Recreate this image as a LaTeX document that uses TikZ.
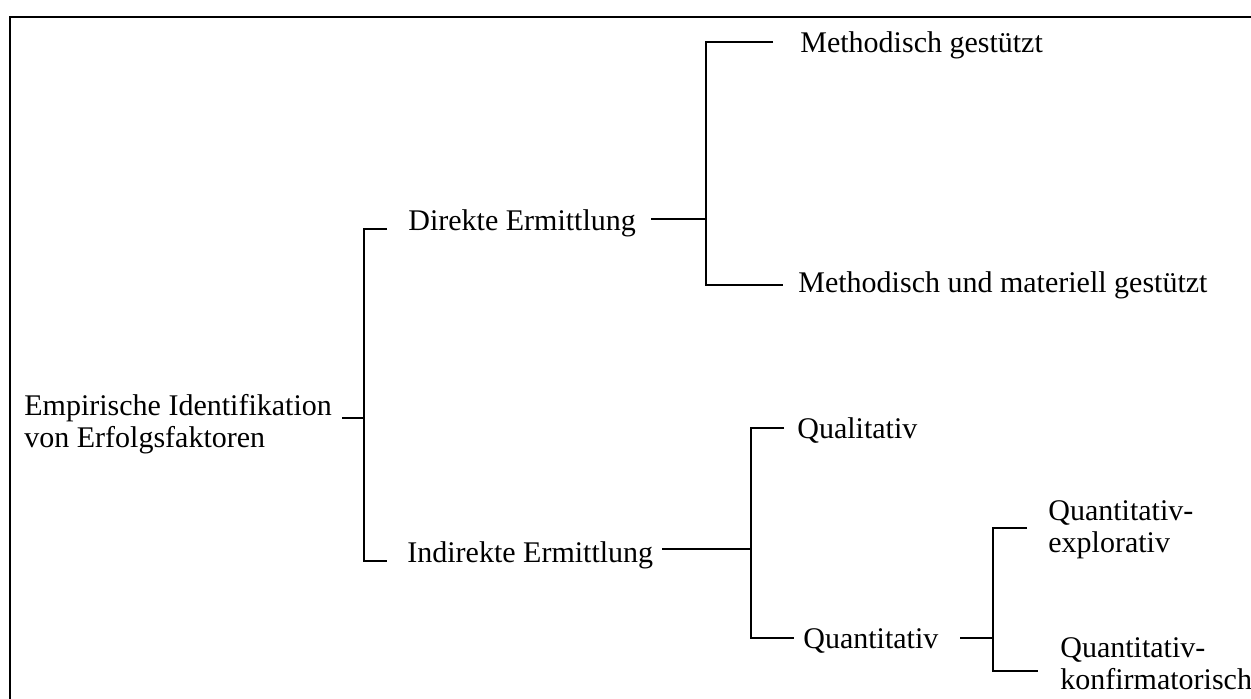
\documentclass[tikz,border=0pt]{standalone}
\usepackage{fontspec}
\setmainfont{Liberation Serif}
\usepackage{tikz}

\begin{document}
\begin{tikzpicture}[x=0.5pt,y=-0.5pt,
    lbl/.style={anchor=base west,inner sep=0pt,align=left,font=\fontsize{15}{16}\selectfont},
    conn/.style={line width=0.65pt}]
    \useasboundingbox (0,0) rectangle (1251,699);
    \clip (0,0) rectangle (1251,699);
    % frame
    \draw[line width=1pt] (10,17) rectangle (1270,720);

    % labels (base = last line)
    \node[lbl] (root) at (24,447) {Empirische Identifikation\\von Erfolgsfaktoren};
    \node[lbl] (dir) at (408,231) {Direkte Ermittlung};
    \node[lbl] (indir) at (407,562) {Indirekte Ermittlung};
    \node[lbl] (mgest) at (800,53) {Methodisch gestützt};
    \node[lbl] (mmgest) at (798,293) {Methodisch und materiell gestützt};
    \node[lbl] (qual) at (797,438) {Qualitativ};
    \node[lbl] (quant) at (803,648) {Quantitativ};
    \node[lbl] (qexpl) at (1048,552) {Quantitativ-\\explorativ};
    \node[lbl] (qkonf) at (1060,689) {Quantitativ-\\konfirmatorisch};

    % line ends
    \coordinate (r0) at (342,418);  \coordinate (b1) at (364,418);
    \coordinate (b1t) at (387,229); \coordinate (b1b) at (387,561);
    \coordinate (d0) at (651,219);  \coordinate (b2) at (706,219);
    \coordinate (b2t) at (773,42);  \coordinate (b2b) at (783,285);
    \coordinate (i0) at (662,549);  \coordinate (b3) at (751,549);
    \coordinate (b3t) at (784,428); \coordinate (b3b) at (794,638);
    \coordinate (q0) at (960,638);  \coordinate (b4) at (993,638);
    \coordinate (b4t) at (1027,528); \coordinate (b4b) at (1038,671);

    % connectors
    \draw[conn] (r0) -- (b1);
    \draw[conn] (b1t) -| (b1) |- (b1b);
    \draw[conn] (d0) -- (b2);
    \draw[conn] (b2t) -| (b2) |- (b2b);
    \draw[conn] (i0) -- (b3);
    \draw[conn] (b3t) -| (b3) |- (b3b);
    \draw[conn] (q0) -- (b4);
    \draw[conn] (b4t) -| (b4) |- (b4b);
\end{tikzpicture}
\end{document}
